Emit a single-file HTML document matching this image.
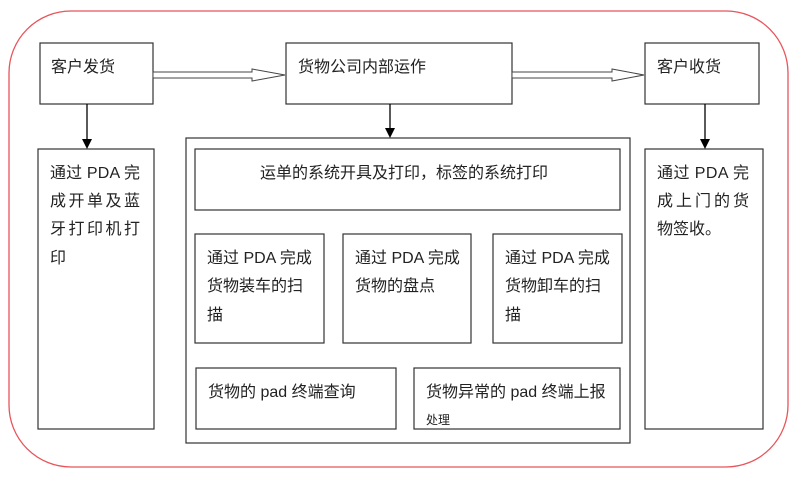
<!DOCTYPE html>
<html><head><meta charset="utf-8"><style>
html,body{margin:0;padding:0;background:#fff;}
svg{display:block}
text{font-family:"Liberation Sans","Noto Sans CJK SC",sans-serif;font-size:16px;fill:#222;}
</style></head><body>
<svg width="802" height="480" viewBox="0 0 802 480" xmlns="http://www.w3.org/2000/svg">
<rect x="9" y="11" width="779" height="456" rx="62" ry="62" fill="none" stroke="#e8545a" stroke-width="1.3"/>
<g fill="none" stroke="#333" stroke-width="1.2">
<rect x="40" y="43" width="113" height="61"/>
<rect x="286" y="43" width="226" height="61"/>
<rect x="645" y="43" width="114" height="61"/>
<rect x="38" y="149" width="116" height="280"/>
<rect x="186" y="138" width="444" height="305"/>
<rect x="195" y="149" width="425" height="61"/>
<rect x="195" y="234" width="129" height="109"/>
<rect x="343" y="234" width="128" height="109"/>
<rect x="493" y="234" width="129" height="109"/>
<rect x="196" y="368" width="200" height="61"/>
<rect x="414" y="368" width="206" height="61"/>
<rect x="645" y="149" width="118" height="280"/>
</g>
<g stroke="#000" stroke-width="1.3">
<line x1="87" y1="104" x2="87" y2="140"/>
<line x1="390" y1="104" x2="390" y2="129"/>
<line x1="705" y1="104" x2="705" y2="140"/>
</g>
<g fill="#000">
<path d="M82,139 L92,139 L87,149 Z"/>
<path d="M385,128 L395,128 L390,138 Z"/>
<path d="M700,139 L710,139 L705,149 Z"/>
</g>
<g fill="#fff" stroke="#444" stroke-width="1">
<path d="M153,72 L252,72 L252,69 L285,75 L252,81 L252,78 L153,78 Z"/>
<path d="M512,72 L612,72 L612,69 L644,75 L612,81 L612,78 L512,78 Z"/>
</g>
<text x="51" y="72">客户发货</text>
<text x="298" y="72">货物公司内部运作</text>
<text x="657" y="72">客户收货</text>
<text x="50" y="178" textLength="90" lengthAdjust="spacing">通过 PDA 完</text>
<text x="50" y="206" textLength="90" lengthAdjust="spacing">成开单及蓝</text>
<text x="50" y="234" textLength="90" lengthAdjust="spacing">牙打印机打</text>
<text x="50" y="263">印</text>
<text x="657" y="178" textLength="92" lengthAdjust="spacing">通过 PDA 完</text>
<text x="657" y="206" textLength="92" lengthAdjust="spacing">成上门的货</text>
<text x="657" y="234">物签收。</text>
<text x="260" y="178">运单的系统开具及打印，标签的系统打印</text>
<text x="207" y="263">通过 PDA 完成</text>
<text x="207" y="291">货物装车的扫</text>
<text x="207" y="320">描</text>
<text x="355" y="263">通过 PDA 完成</text>
<text x="355" y="291">货物的盘点</text>
<text x="505" y="263">通过 PDA 完成</text>
<text x="505" y="291">货物卸车的扫</text>
<text x="505" y="320">描</text>
<text x="208" y="397">货物的 pad 终端查询</text>
<text x="426" y="397">货物异常的 pad 终端上报</text>
<text x="426" y="424" style="font-size:12px">处理</text>
</svg>
</body></html>
